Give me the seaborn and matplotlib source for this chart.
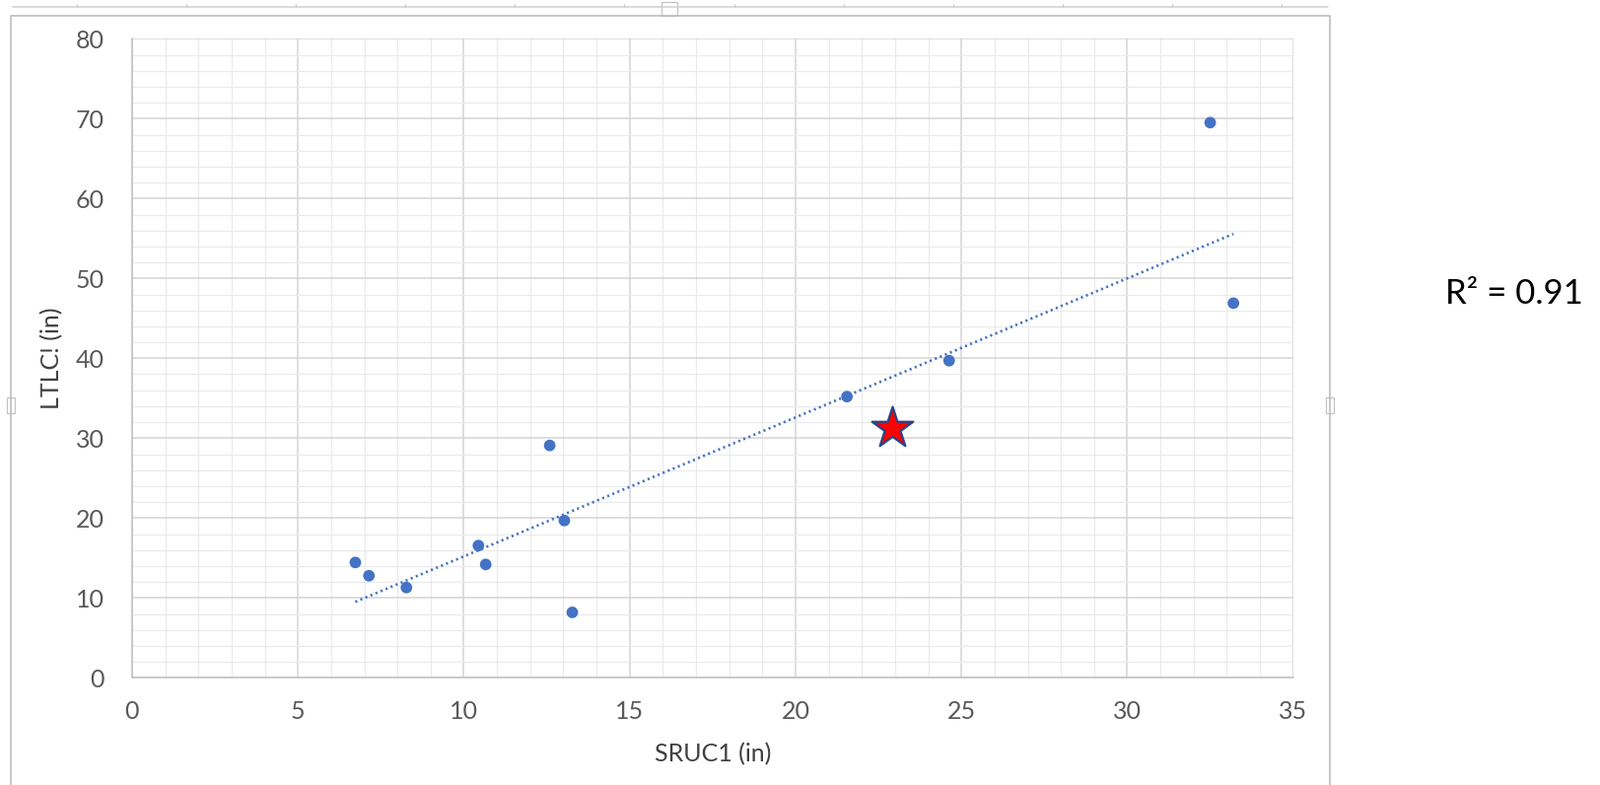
import numpy as np
import pandas as pd
import matplotlib.pyplot as plt
import seaborn as sns
from matplotlib.ticker import MultipleLocator
from matplotlib.patches import Rectangle
from matplotlib.lines import Line2D

# values
sruc1 = [6.73, 7.14, 8.27, 10.44, 10.66, 12.59, 13.03, 13.27, 21.55, 24.63, 32.5, 33.2]
ltlc = [14.44, 12.78, 11.3, 16.55, 14.19, 29.09, 19.69, 8.19, 35.2, 39.7, 69.5, 46.9]
star_x = [22.9]
star_y = [31.3]
r2_text = "R² = 0.91"

data = pd.DataFrame({"SRUC1": sruc1, "LTLC": ltlc})
# the trend line in the reference is fitted through all points, star included
fit_data = pd.DataFrame({"SRUC1": sruc1 + star_x, "LTLC": ltlc + star_y})

sns.set_style("white")
plt.rcParams['font.family'] = ['Lato', 'DejaVu Sans']

W, H = 1624, 796
fig = plt.figure(figsize=(W / 100, H / 100), dpi=100)
fig.patch.set_facecolor("white")

def fx(px):
    return px / W

def fy(py):
    return 1 - py / H

ax = fig.add_axes([fx(134), fy(687.3), fx(1311.7) - fx(134), fy(39.3) - fy(687.3)])

blue = "#4472C4"
sns.regplot(data=fit_data, x="SRUC1", y="LTLC", scatter=False, ci=None, truncate=True, ax=ax,
            line_kws={"color": blue, "lw": 1.9, "ls": (0, (0.8, 1.3)), "zorder": 3})
sns.scatterplot(data=data, x="SRUC1", y="LTLC", s=72, color=blue, edgecolor="none",
                zorder=4, ax=ax)
sns.scatterplot(x=star_x, y=star_y, marker="*", s=1000, color="#FF0000",
                edgecolor="#2A4588", linewidth=1.6, zorder=5, ax=ax)

ax.set_xlim(0, 35)
ax.set_ylim(0, 80)
ax.xaxis.set_major_locator(MultipleLocator(5))
ax.xaxis.set_minor_locator(MultipleLocator(1))
ax.yaxis.set_major_locator(MultipleLocator(10))
ax.yaxis.set_minor_locator(MultipleLocator(2))
ax.grid(which="major", color="#d4d4d4", lw=1.1)
ax.grid(which="minor", color="#ebebeb", lw=0.9)
ax.set_axisbelow(True)

for s in ["top", "right"]:
    ax.spines[s].set_visible(False)
for s in ["left", "bottom"]:
    ax.spines[s].set_color("#bfbfbf")
    ax.spines[s].set_linewidth(1.1)

ax.tick_params(which="major", length=6.5, width=1.1, color="#bfbfbf",
               labelsize=18, labelcolor="#595959")
ax.tick_params(axis="y", pad=14)
ax.tick_params(axis="x", pad=10)
ax.tick_params(which="minor", length=0)

ax.set_xlabel("SRUC1 (in)", fontsize=18, color="#404040", va="center")
ax.set_ylabel("LTLC! (in)", fontsize=18, color="#404040", va="center")
ax.xaxis.set_label_coords(0.5, (687.3 - 765) / 648)
ax.yaxis.set_label_coords((53 - 134) / 1177.7, 0.5)

fig.text(fx(1466), fy(298), r2_text, fontsize=25, ha="left", va="center", color="black")

# chart frame like the spreadsheet screenshot
frame = "#bdbdbd"
fig.add_artist(Line2D([fx(13), fx(1347)], [fy(6.7), fy(6.7)], color="#cfcfcf", lw=1.1))
for k in range(12):
    xr = 78 + 111.1 * k
    fig.add_artist(Line2D([fx(xr), fx(xr)], [fy(6.7), fy(3.5)], color="#cfcfcf", lw=0.9))
fig.add_artist(Line2D([fx(11), fx(11), fx(1349), fx(1349)],
                      [fy(796), fy(15.7), fy(15.7), fy(796)], color=frame, lw=1.2))
for (x0, y0, w, h) in [(671, 2, 16, 14), (7, 403, 8, 16), (1345, 403, 8, 16)]:
    fig.add_artist(Rectangle((fx(x0), fy(y0 + h)), w / W, h / H, transform=fig.transFigure,
                             facecolor="white", edgecolor="#c4c4c4", lw=0.9))

fig.savefig("out.png", dpi=100, facecolor="white")
